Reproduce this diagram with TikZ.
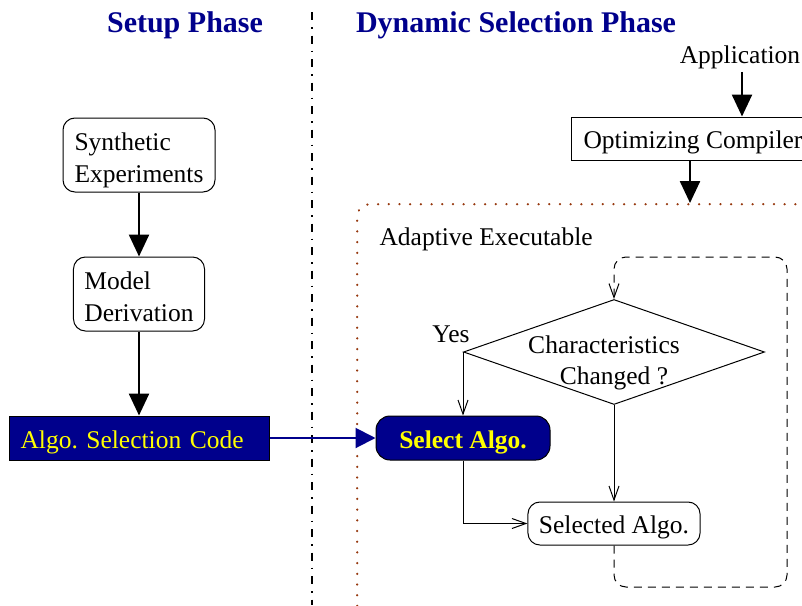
\documentclass[tikz,border=0pt]{standalone}
\usepackage{fontspec}
\setmainfont{Liberation Serif}
\usetikzlibrary{arrows.meta,shapes.geometric,calc}
\definecolor{navy}{RGB}{0,0,140}
\definecolor{rust}{RGB}{150,56,14}
\definecolor{hilite}{RGB}{255,255,0}
\begin{document}
\frenchspacing
\begin{tikzpicture}[x=1pt,y=-1pt,
  every node/.style={font=\fontsize{25.5}{32}\selectfont},
  oneline/.style={text height=21pt, text depth=1pt},
  twoline/.style={text height=55pt, text depth=1pt},
  title/.style={font=\fontsize{30}{34}\selectfont\bfseries, text=navy},
  roundbox/.style={draw, line width=1pt, rounded corners=12pt, align=left, inner xsep=11pt},
  plainbox/.style={draw, line width=1pt, inner xsep=12pt, minimum height=43pt, oneline},
  darkbox/.style={draw=black, fill=navy, text=hilite, line width=1pt, oneline},
  bigarrow/.style={line width=2.5pt, -{Triangle[length=22pt,width=20pt]}},
  bluearrow/.style={navy, line width=2pt, -{Triangle[length=20pt,width=20pt]}},
  thinarrow/.style={line width=1pt, -{Straight Barb[length=14pt,width=10pt]}},
  loopline/.style={line width=1pt, dash pattern=on 8pt off 6pt, rounded corners=12pt,
                   -{Straight Barb[length=14pt,width=10pt]}}
]
\clip (0,0) rectangle (802,605);

% phase titles and divider
\node[title, anchor=base] (setup) at (185,32) {Setup Phase};
\node[title, anchor=base] (dyn) at (516,32) {Dynamic Selection Phase};
\draw[line width=2.2pt, dash pattern=on 8pt off 7pt on 1.5pt off 7pt] (312,12) -- (312,605);

% setup phase
\node[roundbox, twoline, minimum width=152pt, minimum height=74pt] (synth) at (139,155) {Synthetic\\Experiments};
\node[roundbox, twoline, minimum width=129pt, minimum height=74pt] (model) at (139,294) {Model\\Derivation};
\node[darkbox, anchor=west, text width=238pt, align=left, inner xsep=11pt, minimum height=44pt] (code) at (9,438) {Algo. Selection Code};
\draw[bigarrow] (synth.south) -- (model.north);
\draw[bigarrow] (model.south) -- (code.north -| model.south);

% compile path
\node[anchor=base] (app) at (740,63) {Application};
\node[plainbox, anchor=west] (comp) at (571,138.5) {Optimizing Compiler};
\draw[bigarrow] (app.south -| 742,0) -- (comp.north -| 742,0);

% adaptive executable frame
\node[draw=rust, line width=2.4pt, dash pattern=on 0.1pt off 10.6pt, line cap=round, rounded corners=12pt,
      anchor=north west, minimum width=600pt, minimum height=500pt] (ae) at (356,203) {};
\node[anchor=base west] (aelabel) at (376,245) {Adaptive Executable};
\draw[bigarrow] ([xshift=119pt]comp.south west) -- ([xshift=119pt]comp.south west |- ae.north);

% decision loop
\node[draw, line width=1pt, diamond, aspect=2.87, minimum width=301pt, minimum height=105pt, inner sep=0pt] (chk) at (614,352) {};
\node[align=center, anchor=base, font=\fontsize{25.5}{31}\selectfont] (chktext) at (614,384) {Characteristics\hspace*{20pt}\\Changed ?};
\node[anchor=base] (yes) at (451,342) {Yes};
\node[draw, fill=navy, text=hilite, line width=1pt, rounded corners=14pt, minimum width=174pt, minimum height=44pt,
      oneline, font=\fontsize{25.5}{32}\selectfont\bfseries] (sel) at (463,438) {Select Algo.};
\node[roundbox, oneline, minimum width=172pt, minimum height=43pt, align=center] (selected) at (614,523.5) {Selected Algo.};

\draw[bluearrow] (code.east) -- (sel.west);
\draw[thinarrow] (chk.west) -- (sel.north);
\draw[thinarrow] (chk.south) -- (selected.north);
\draw[thinarrow] (sel.south) |- (selected.west);

\coordinate (loopbr) at (787,587);
\coordinate (looptr) at (787,257);
\draw[loopline] (selected.south) |- (loopbr) -- (looptr) -| (chk.north);
\end{tikzpicture}
\end{document}
